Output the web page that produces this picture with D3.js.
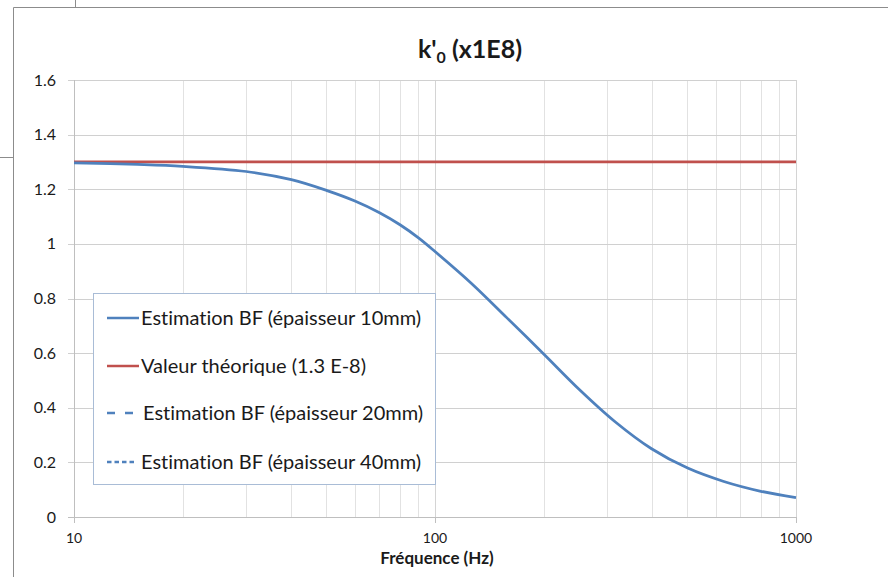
<!DOCTYPE html>
<html><head><meta charset="utf-8">
<script src="https://cdn.jsdelivr.net/npm/d3@7"></script>
<style>body{margin:0;background:#fff}svg{display:block}text{font-family:Lato,"Open Sans","Liberation Sans",sans-serif;fill:#1a1a1a;font-variant-ligatures:none;font-feature-settings:"liga" 0}</style>
</head><body>
<svg id="c" width="888" height="577"></svg>
<script>
const freqs = [10,15,20,30,40,50,60,70,80,90,100,126,158,200,251,316,398,501,631,794,1000];
const est10 = [1.297,1.291,1.284,1.265,1.235,1.196,1.157,1.115,1.070,1.022,0.972,0.856,0.730,0.597,0.467,0.348,0.250,0.179,0.130,0.095,0.071];
const theo = [1.3,1.3];
const theoFreqs = [10,1000];
const yTicks = [0,0.2,0.4,0.6,0.8,1,1.2,1.4,1.6];
const xTicks = [10,100,1000];
const legendLabels = ["Estimation BF (épaisseur 10mm)","Valeur théorique (1.3 E-8)","Estimation BF (épaisseur 20mm)","Estimation BF (épaisseur 40mm)"];

const svg = d3.select("#c");
const x = d3.scaleLog().domain([10,1000]).range([74,796]);
const y = d3.scaleLinear().domain([0,1.6]).range([517,80]);

// spreadsheet frame remnants
svg.append("line").attr("x1",75.5).attr("x2",75.5).attr("y1",0).attr("y2",7).attr("stroke","#8c8c8c");
svg.append("line").attr("x1",0).attr("x2",13).attr("y1",157.5).attr("y2",157.5).attr("stroke","#8c8c8c");
svg.append("path").attr("d","M13.5,590V7.5H900").attr("fill","none").attr("stroke","#8c8c8c").attr("stroke-width",1);

// vertical gridlines (log minor)
const minor = [];
[10,100].forEach(d=>{for(let k=2;k<=9;k++) minor.push(d*k);});
svg.append("g").selectAll("line").data(minor).join("line")
  .attr("x1",d=>Math.round(x(d))+0.5).attr("x2",d=>Math.round(x(d))+0.5)
  .attr("y1",y(1.6)).attr("y2",y(0)).attr("stroke","#e2e2e2").attr("stroke-width",1);
svg.append("g").selectAll("line").data(xTicks).join("line")
  .attr("x1",d=>Math.round(x(d))+0.5).attr("x2",d=>Math.round(x(d))+0.5)
  .attr("y1",y(1.6)).attr("y2",y(0)).attr("stroke","#d4d4d4").attr("stroke-width",1);
// horizontal gridlines
svg.append("g").selectAll("line").data(yTicks).join("line")
  .attr("x1",68).attr("x2",x(1000))
  .attr("y1",d=>Math.round(y(d))+0.5).attr("y2",d=>Math.round(y(d))+0.5)
  .attr("stroke",d=>d===0?"#bfbfbf":"#d0d0d0").attr("stroke-width",1);

// axes ticks
svg.append("g").selectAll("line").data(xTicks).join("line")
  .attr("x1",d=>Math.round(x(d))+0.5).attr("x2",d=>Math.round(x(d))+0.5)
  .attr("y1",y(0)).attr("y2",y(0)+6).attr("stroke","#bfbfbf");
svg.append("line").attr("x1",74.5).attr("x2",74.5).attr("y1",y(1.6)).attr("y2",y(0)).attr("stroke","#bfbfbf");

// tick labels
svg.append("g").selectAll("text").data(yTicks).join("text")
  .attr("x",56).attr("y",d=>y(d)+5.5).attr("text-anchor","end").attr("font-size",16)
  .text(d=>d3.format("")(+d.toFixed(1)));
svg.append("g").selectAll("text").data(xTicks).join("text")
  .attr("x",d=>x(d)).attr("y",543).attr("text-anchor","middle").attr("font-size",14)
  .text(d=>d);

// title
const t = svg.append("text").attr("x",470).attr("y",58).attr("text-anchor","middle")
  .attr("font-size",25).attr("font-weight","bold");
t.append("tspan").text("k'");
t.append("tspan").attr("font-size",16).attr("dy",5).text("0");
t.append("tspan").attr("dy",-5).text(" (x1E8)");

svg.append("text").attr("x",437).attr("y",564).attr("text-anchor","middle")
  .attr("font-size",17).attr("font-weight","bold").text("Fréquence (Hz)");

// lines
svg.append("path").datum(theoFreqs.map((f,i)=>[f,theo[i]]))
  .attr("d",d3.line().x(d=>x(d[0])).y(d=>y(d[1])))
  .attr("fill","none").attr("stroke","#c0504d").attr("stroke-width",2.75);
svg.append("path").datum(freqs.map((f,i)=>[f,est10[i]]))
  .attr("d",d3.line().x(d=>x(d[0])).y(d=>y(d[1])).curve(d3.curveCatmullRom.alpha(0.5)))
  .attr("fill","none").attr("stroke","#4f81bd").attr("stroke-width",2.75);

// legend
const lg = svg.append("g");
lg.append("rect").attr("x",93.5).attr("y",293.5).attr("width",342).attr("height",191)
  .attr("fill","#fff").attr("stroke","#a9bcd6");
const styles = [{c:"#4f81bd",da:null,x2:139},{c:"#c0504d",da:null,x2:139},{c:"#4f81bd",da:"8,10",x2:133},{c:"#4f81bd",da:"4.5,3",x2:135}];
const rows = [318,366,413,462];
legendLabels.forEach((lab,i)=>{
  lg.append("line").attr("x1",107).attr("x2",styles[i].x2).attr("y1",rows[i]).attr("y2",rows[i])
    .attr("stroke",styles[i].c).attr("stroke-width",2.5).attr("stroke-dasharray",styles[i].da);
  lg.append("text").attr("x",i==2?143:141).attr("y",rows[i]+6.5).attr("font-size",20).text(lab);
});
</script>
</body></html>
